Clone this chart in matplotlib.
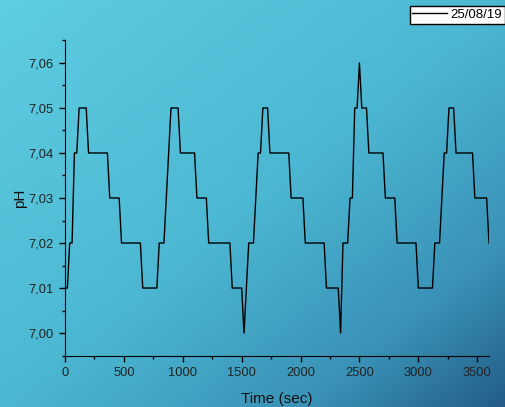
import numpy as np
import matplotlib
matplotlib.use("Agg")
import matplotlib.pyplot as plt
from matplotlib.ticker import MultipleLocator, FuncFormatter

plt.rcParams['font.family'] = ['Liberation Sans', 'DejaVu Sans']

# pH readings (sampled roughly every 20 s)
time_s = [0, 20, 40, 60, 80, 100, 120, 180, 200, 360, 380, 460, 480, 640, 660, 780,
          800, 840, 900, 960, 980, 1100, 1120, 1200, 1220, 1400, 1420, 1500, 1520,
          1560, 1600, 1640, 1660, 1680, 1720, 1740, 1900, 1920, 2020, 2040, 2200,
          2220, 2320, 2340, 2360, 2400, 2420, 2440, 2460, 2480, 2500, 2520, 2560,
          2580, 2700, 2720, 2800, 2820, 2980, 3000, 3120, 3140, 3180, 3220, 3240,
          3260, 3300, 3320, 3460, 3480, 3580, 3600]
ph = [7.01, 7.01, 7.02, 7.02, 7.04, 7.04, 7.05, 7.05, 7.04, 7.04, 7.03, 7.03, 7.02, 7.02, 7.01, 7.01,
      7.02, 7.02, 7.05, 7.05, 7.04, 7.04, 7.03, 7.03, 7.02, 7.02, 7.01, 7.01, 7.00,
      7.02, 7.02, 7.04, 7.04, 7.05, 7.05, 7.04, 7.04, 7.03, 7.03, 7.02, 7.02,
      7.01, 7.01, 7.00, 7.02, 7.02, 7.03, 7.03, 7.05, 7.05, 7.06, 7.05, 7.05,
      7.04, 7.04, 7.03, 7.03, 7.02, 7.02, 7.01, 7.01, 7.02, 7.02, 7.04, 7.04,
      7.05, 7.05, 7.04, 7.04, 7.03, 7.03, 7.02]
series_label = '25/08/19'

fig = plt.figure(figsize=(5.06, 4.07), dpi=100)

# background gradient (light cyan top-left -> dark blue bottom-right)
bg = fig.add_axes([0, 0, 1, 1], zorder=-1)
u, v = np.meshgrid(np.linspace(0, 1, 300), np.linspace(0, 1, 240))
d = (u + v) / 2
stops = [0.0, 0.5, 0.8, 1.0]
cols = np.array([[94, 206, 226], [76, 183, 210], [58, 146, 183], [34, 92, 134]]) / 255
img = np.stack([np.interp(d, stops, cols[:, k]) for k in range(3)], axis=-1)
bg.imshow(img, aspect='auto', extent=[0, 1, 0, 1], origin='upper')
bg.axis('off')

ax = fig.add_axes([65 / 506, 1 - 356 / 407, (489 - 65) / 506, (356 - 40) / 407])
ax.patch.set_alpha(0)
ax.plot(time_s, ph, color='black', lw=1, label=series_label)

ax.set_xlim(0, 3600)
ax.set_ylim(6.9949, 7.0651)
ax.xaxis.set_major_locator(MultipleLocator(500))
ax.xaxis.set_minor_locator(MultipleLocator(250))
ax.yaxis.set_major_locator(MultipleLocator(0.01))
ax.yaxis.set_minor_locator(MultipleLocator(0.005))
ax.yaxis.set_major_formatter(FuncFormatter(lambda y, p: f'{y:.2f}'.replace('.', ',')))
ax.tick_params(which='major', direction='out', length=4, width=1, labelsize=9.3,
               color='black', labelcolor='#222222', pad=4)
ax.tick_params(which='minor', direction='out', length=2.5, width=1)
ax.spines['top'].set_visible(False)
ax.spines['right'].set_visible(False)
ax.set_xlabel('Time (sec)', fontsize=11, labelpad=9, color='#111111')
ax.set_ylabel('pH', fontsize=11, labelpad=1, color='#111111')

leg = fig.legend(loc='upper right', bbox_to_anchor=(505 / 506, 1 - 6 / 407), fontsize=9.5,
                 frameon=True, fancybox=False, handlelength=2.6, borderpad=0.2,
                 borderaxespad=0, handletextpad=0.3)
leg.get_frame().set_edgecolor('black')
leg.get_frame().set_facecolor('white')
leg.get_frame().set_alpha(1)

fig.savefig('out.png', dpi=100)
